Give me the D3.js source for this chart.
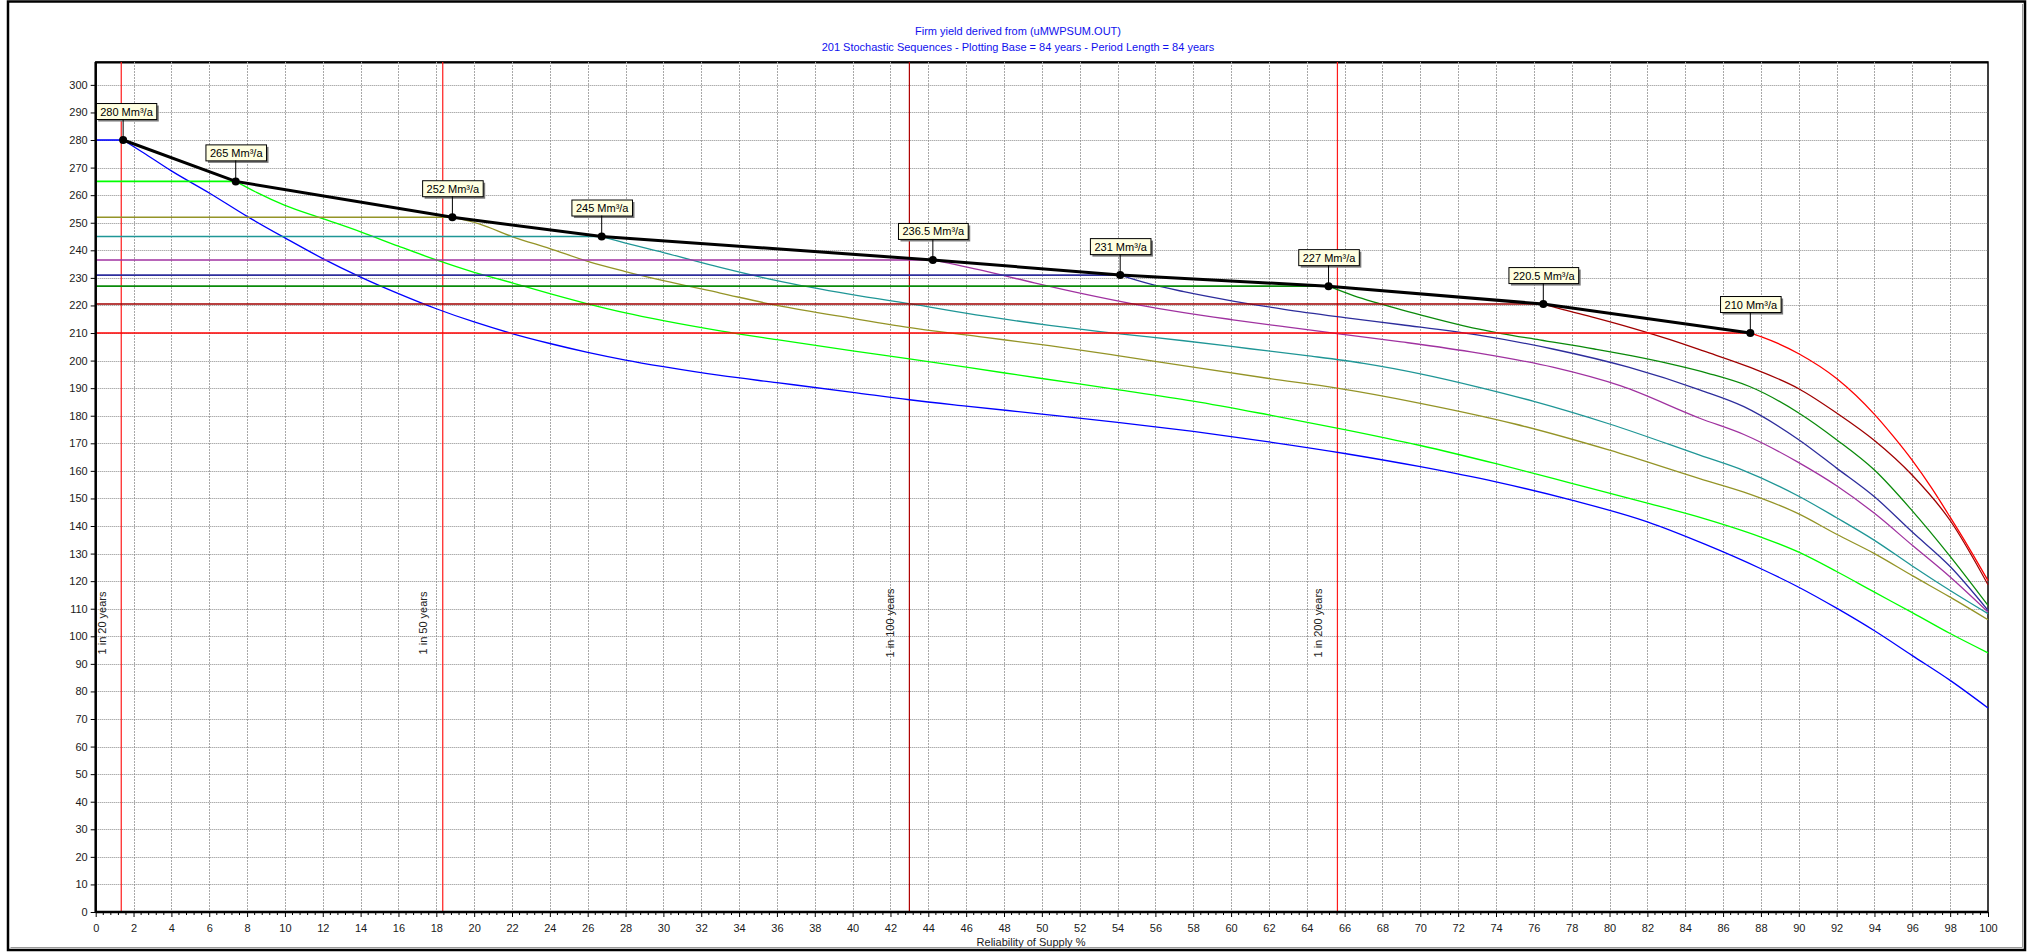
<!DOCTYPE html>
<html><head><meta charset="utf-8">
<script src="https://cdn.jsdelivr.net/npm/d3@7"></script>
<style>
body{margin:0;background:#fff;}
svg{display:block;font-family:"Liberation Sans", Arial, sans-serif;}
</style></head><body>
<svg id="c" width="2033" height="952"></svg>
<script>
// ---------------- DATA ----------------
const titleLines = ["Firm yield derived from (uMWPSUM.OUT)",
  "201 Stochastic Sequences - Plotting Base = 84 years - Period Length = 84 years"];
const xAxisTitle = "Reliability of Supply %";
const xTicks = d3.range(0, 101, 2);
const yTicks = d3.range(0, 301, 10);

const yields   = [280, 265, 252, 245, 236.5, 231, 227, 220.5, 210];
const firmRel  = [1.45, 7.40, 18.85, 26.74, 44.24, 54.14, 65.15, 76.5, 87.44];
const yieldLabels = ["280 Mm³/a","265 Mm³/a","252 Mm³/a","245 Mm³/a","236.5 Mm³/a",
  "231 Mm³/a","227 Mm³/a","220.5 Mm³/a","210 Mm³/a"];

// curve points (reliability %, yield) after each firm-yield point
const c280 = [[2.5,275.5],[4,268.8],[6,260.8],[8,252.3],[10,244.5],[12,237],[14,230.3],[16,224.3],[18,218.8],[20,214],[22,209.8],[24,206.2],[26,203],[28,200.2],[30,197.8],[33,194.6],[36,192],[40,188.5],[43,185.8],[46,183.5],[50,180.6],[54,177.6],[58,174.3],[62,170.5],[66,166.3],[70,161.5],[74,156],[78,149.4],[82,141.5],[85,133.5],[88,124.5],[90,117.8],[92,110.2],[94,102],[96,93],[98,84],[100,74]];
const c265 = [[8.5,261],[10,256.3],[12,251.5],[14,246.7],[16,241.5],[18,236.5],[20,232],[22,228.2],[24,224.3],[26,220.6],[28,217.3],[30,214.5],[33,210.8],[36,207.6],[40,203.5],[43,200.6],[46,197.6],[50,193.5],[54,189.5],[58,185.3],[62,180.3],[66,175],[70,169.2],[74,162.6],[78,155.5],[82,148.3],[85,142.7],[88,136],[90,130.5],[92,123.5],[94,116],[96,108.6],[98,101],[100,94]];
const c252 = [[20.3,249.5],[22,245],[24,240.6],[26,236],[28,232.3],[30,229],[33,224.5],[36,220],[40,215.3],[43.4,211.6],[46.9,208.5],[50.4,205.4],[54,201.8],[58,197.6],[62,193.5],[65.6,190],[70,184.5],[75,177],[80,167.5],[84.8,157.1],[87.1,152.3],[90,144.4],[92,137],[94,130],[96,122],[98,114.2],[100,106]];
const c245 = [[28,242.6],[30,239.2],[33,233.8],[36,229],[39.9,224],[43.4,220.2],[46.9,216.2],[50.4,212.8],[54,209.8],[57.5,207.2],[61,204.3],[64,201.8],[67,199],[70,195.2],[73,190.5],[76,185.2],[80,177],[84.8,165.6],[87.1,160.1],[90,150.8],[92,143],[94,134.8],[96,125.5],[98,116.6],[100,108.2]];
const c236 = [[46.9,232.6],[49.6,228.2],[52.2,224.2],[54.8,220.6],[57.5,217.4],[60.1,214.8],[62.8,212.3],[65.6,209.8],[69,206.8],[73,202.8],[77,197.6],[80.6,190.8],[84.8,179],[87.1,173.2],[90,163],[92,154.6],[94,144.6],[96,133],[98,121.5],[100,108.8]];
const c231 = [[55.7,227.8],[57.5,225],[60.1,221.6],[62.8,218.6],[66,215.6],[69,213],[73,209.3],[77,204.2],[81,197.6],[84.8,189.3],[87.1,183.3],[90,171.3],[92,161],[94,150.6],[96,137.8],[98,125.3],[100,109.4]];
const c227 = [[66.5,223.5],[67.67,221],[70.1,216.4],[72.3,212.6],[74.3,209.8],[76.3,207.5],[79.2,204.2],[81.2,201.7],[83.2,198.8],[85.2,195.4],[87.4,190.6],[90,181],[92,171.3],[94,160.3],[96,145.5],[98,129],[100,111.2]];
const c220 = [[77.5,218.6],[79.2,215.6],[81.2,211.8],[83.2,207.6],[85,203.4],[87.4,197.6],[90,189.8],[92,181],[94,171],[96,158.4],[98,142],[100,118.7]];
const c210 = [[88,208.7],[90,202.5],[92,193.5],[94,180.5],[95,172.5],[96,163.8],[97,154],[98,143.2],[99,132],[100,120.2]];
const curves = [c280, c265, c252, c245, c236, c231, c227, c220, c210];

const returnLabels = ["1 in 20 years","1 in 50 years","1 in 100 years","1 in 200 years"];
const returnRel    = [1.35, 18.34, 43.0, 65.62];

// ---------------- STYLE ----------------
const seriesColors = ["#0000ff","#00ff00","#949427","#1f9696","#a032a0","#2d2d9c","#0a8a0a","#a00000","#ff0000"];
const returnColors = ["#ff1a1a","#ff1a1a","#b00000","#ff1a1a"];
const W = 2033, H = 952;
const P = {l:95.7, r:1988, t:62, b:912};

const svg = d3.select("#c");
svg.append("rect").attr("width",W).attr("height",H).attr("fill","#fff");

const x = d3.scaleLinear().domain([0,100]).range([P.l,P.r]);
const y = d3.scaleLinear().domain([0,308.3]).range([P.b,P.t]);

// outer frame
svg.append("rect").attr("x",8).attr("y",1.5).attr("width",2017).attr("height",948.5)
  .attr("fill","none").attr("stroke","#000").attr("stroke-width",2.5);
svg.append("path").attr("d",`M2022.5,4 V947.5 H10.5`).attr("fill","none").attr("stroke","#9a9a9a").attr("stroke-width",1);

// title
svg.append("g").selectAll("text").data(titleLines).join("text")
  .attr("x",1018).attr("y",(d,i)=>35+i*15.5).attr("text-anchor","middle")
  .attr("font-size",11).attr("fill","#1010ee").text(d=>d);

// plot background & border
svg.append("rect").attr("x",P.l).attr("y",P.t).attr("width",P.r-P.l).attr("height",P.b-P.t)
  .attr("fill","#fff").attr("stroke","#000").attr("stroke-width",1.5);
svg.append("line").attr("x1",P.l).attr("x2",P.r).attr("y1",P.t+0.5).attr("y2",P.t+0.5).attr("stroke","#000").attr("stroke-width",2);

// grid
const grid = svg.append("g");
grid.selectAll("line.v").data(xTicks.filter(d=>d>0&&d<100)).join("line")
  .attr("x1",d=>Math.round(x(d))+0.5).attr("x2",d=>Math.round(x(d))+0.5)
  .attr("y1",P.t).attr("y2",P.b).attr("stroke","#a8a8a8").attr("stroke-width",1).attr("stroke-dasharray","2,1");
grid.selectAll("line.h").data(yTicks.filter(d=>d>0)).join("line")
  .attr("x1",P.l).attr("x2",P.r)
  .attr("y1",d=>Math.round(y(d))+0.5).attr("y2",d=>Math.round(y(d))+0.5)
  .attr("stroke","#8a8a8a").attr("stroke-width",1).attr("stroke-dasharray","1,1");

// return period lines
const rp = svg.append("g");
rp.selectAll("line").data(returnRel).join("line")
  .attr("x1",d=>x(d)).attr("x2",d=>x(d)).attr("y1",P.t).attr("y2",P.b)
  .attr("stroke",(d,i)=>returnColors[i]).attr("stroke-width",1.2);
rp.selectAll("text").data(returnRel).join("text")
  .attr("transform",d=>`translate(${x(d)-15.5},623) rotate(-90)`)
  .attr("text-anchor","middle").attr("font-size",11).attr("fill","#222")
  .text((d,i)=>returnLabels[i]);

// series
const lineLin = d3.line().x(d=>x(d[0])).y(d=>y(d[1]));
const lineCurve = d3.line().x(d=>x(d[0])).y(d=>y(d[1])).curve(d3.curveMonotoneX);
const sg = svg.append("g").attr("fill","none");
yields.forEach((v,i)=>{
  sg.append("path").attr("d",lineLin([[0,v],[firmRel[i],v]]))
    .attr("stroke",seriesColors[i]).attr("stroke-width",1.6);
  sg.append("path").attr("d",lineCurve([[firmRel[i],v]].concat(curves[i])))
    .attr("stroke",seriesColors[i]).attr("stroke-width",1.3);
});

// firm yield line
const pts = yields.map((v,i)=>[firmRel[i],v]);
svg.append("path").attr("d",lineLin(pts)).attr("fill","none").attr("stroke","#000").attr("stroke-width",3);
svg.append("g").selectAll("circle").data(pts).join("circle")
  .attr("cx",d=>x(d[0])).attr("cy",d=>y(d[1])).attr("r",4).attr("fill","#000");

// labels
const lg = svg.append("g");
pts.forEach((d,i)=>{
  const cx = x(d[0]), cy = y(d[1]);
  const g = lg.append("g");
  const t = g.append("text").attr("font-size",11).attr("fill","#000").attr("text-anchor","middle").text(yieldLabels[i]);
  const w = t.node().getComputedTextLength() + 8;
  const h = 16;
  let bx = cx - w/2;
  if (bx < P.l) bx = P.l;
  const by = cy - 21 - h;
  g.append("line").attr("x1",cx).attr("x2",cx).attr("y1",by+h).attr("y2",cy).attr("stroke","#000").attr("stroke-width",1);
  g.insert("rect","text").attr("x",bx+2.5).attr("y",by+2.5).attr("width",w).attr("height",h).attr("fill","#7a7a7a");
  g.insert("rect","text").attr("x",bx+0.5).attr("y",by+0.5).attr("width",w).attr("height",h).attr("fill","#ffffe1").attr("stroke","#000").attr("stroke-width",1);
  t.attr("x",bx+w/2+0.5).attr("y",by+12.5);
});

// axes
const minor = d3.range(0,100.001,0.4).filter(d=>Math.abs(d/2-Math.round(d/2))>0.01);
svg.append("g").selectAll("line").data(minor).join("line")
  .attr("x1",d=>x(d)).attr("x2",d=>x(d)).attr("y1",P.b).attr("y2",P.b+3).attr("stroke","#000").attr("stroke-width",1);
const xa = svg.append("g").attr("transform",`translate(0,${P.b})`)
  .call(d3.axisBottom(x).tickValues(xTicks).tickSize(5).tickSizeOuter(0).tickPadding(7).tickFormat(d3.format("d")));
const ya = svg.append("g").attr("transform",`translate(${P.l},0)`)
  .call(d3.axisLeft(y).tickValues(yTicks).tickSize(5).tickSizeOuter(0).tickPadding(3).tickFormat(d3.format("d")));
[xa,ya].forEach(a=>{
  a.select(".domain").attr("stroke","#000").attr("stroke-width",2.5);
  a.selectAll(".tick line").attr("stroke","#000").attr("stroke-width",1);
  a.selectAll("text").attr("font-size",11).attr("fill","#1a1a1a").attr("font-family","'Liberation Sans', Arial, sans-serif");
});
ya.select(".domain").attr("d",`M0,${P.b}V${P.t}`);
xa.select(".domain").attr("d",`M${P.l},0H${P.r}`);

svg.append("text").attr("x",1031).attr("y",946).attr("text-anchor","middle")
  .attr("font-size",11).attr("fill","#1a1a1a").text(xAxisTitle);
</script>
</body></html>
